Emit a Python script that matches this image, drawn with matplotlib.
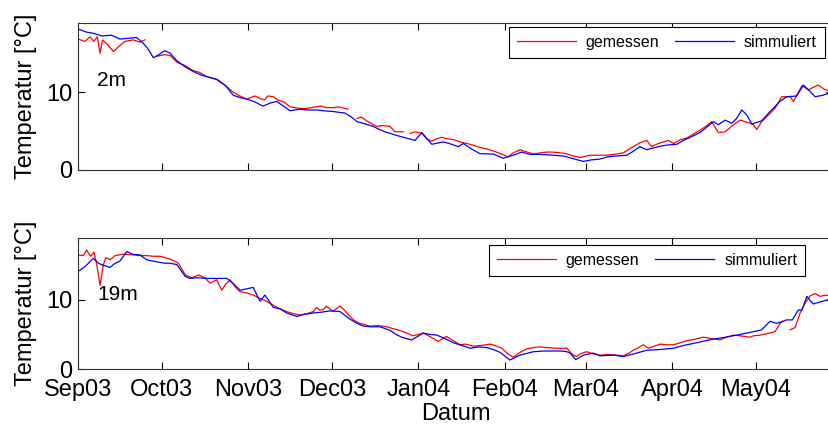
import numpy as np
import matplotlib
matplotlib.use("Agg")
import matplotlib.pyplot as plt
import matplotlib.dates as mdates

plt.rcParams['font.family'] = ['Liberation Sans', 'DejaVu Sans']

start = np.datetime64('2003-09-01')
nan = np.nan

# days since 1 Sep 2003, temperature in deg C (nan = gap in the record)
days_2m_meas = [0, 2.5, 4.3, 5.7, 6.9, 7.9, 8.8, 10.3, 12.7, 15.1, 16.8, 19.8, 22.2, 24, 26,
                28.4, 31, 33, 35.5, 38.4, 41, 43.7, 46, 49.7, 52.5, 55.6, 58, 60.4, 62, 63.5, 65,
                66.8, 68, 70, 71.5, 74, 76, 79.6, 82, 85, 87.3, 89, 91.5, 93.5, 95.7, 96.8, 98.5,
                100, 101.5, 103.5, 105, 107, 109, 111.8, 113.6, 116.5, 118,
                119, 121, 123.2, 125, 126.8, 128.5, 130.3, 132.5, 134.5, 137, 140.5, 143, 145.3,
                147.5, 150, 152, 154.2, 156, 158.4, 161, 163.2, 165.6, 168, 170, 172.8, 175, 177.5,
                179.9, 183.5, 186, 189.5, 192, 195.4, 198, 201.4, 203.8, 205.6, 208, 211.6, 213.4,
                216, 218.2, 220.5, 222.9, 225, 227.1, 229.5, 231.9, 234.9, 237.3, 240.9, 242,
                243.3, 245, 247.4, 249.8, 252.2, 255.2, 256.4, 259.4, 261.8, 265.3, 267.7, 269.5]
temp_2m_meas = [16.8, 16.5, 17.1, 16.5, 17.1, 15.0, 16.7, 16.2, 15.2, 16.0, 16.5, 16.7, 16.4, 16.7, nan,
                14.6, 14.8, 14.7, 13.8, 13.4, 12.8, 12.5, 12.0, 11.6, 10.9, 10.0, 9.5, 9.1, 9.3, 9.5, 9.2,
                9.0, 9.5, 9.4, 9.0, 8.7, 8.1, 7.9, 7.9, 8.1, 8.2, 8.0, 8.0, 8.1, 7.9, 7.8, nan,
                6.6, 6.8, 6.3, 6.0, 5.6, 5.7, 5.6, 4.9, 4.9, nan,
                4.7, 4.9, 4.7, 4.0, 3.7, 4.0, 4.2, 4.0, 3.9, 3.6, 3.3, 3.0, 2.8,
                2.6, 2.3, 2.0, 1.7, 2.2, 2.6, 2.3, 2.05, 2.2, 2.3, 2.3, 2.2, 2.1, 1.8,
                1.6, 1.9, 1.9, 1.9, 2.0, 2.2, 2.8, 3.5, 3.8, 3.0, 3.4, 3.8, 3.4,
                3.9, 4.1, 4.6, 5.1, 5.6, 6.2, 4.8, 4.9, 5.8, 6.4, 6.0, 5.8,
                5.2, 6.2, 7.05, 7.9, 9.4, 9.4, 8.8, 10.8, 10.3, 10.9, 10.3, 10.2]

days_2m_sim = [0, 3, 6, 8.5, 12, 15, 18, 21, 23, 25, 27, 29, 31, 33, 35.5, 38.5, 41, 44, 46, 50, 53,
               55.6, 58, 60.4, 63, 66.3, 69, 71.2, 74, 76, 79.6, 82, 85.5, 88, 91.5, 95.7, 98, 100,
               103, 105.8, 108, 110, 113.6, 116.6, 120.8, 123.2, 126.8, 130.9, 133, 136.3, 138.1,
               141, 144.1, 148.9, 152.4, 156, 159, 162, 165.6, 170, 174, 177, 181.1, 184, 187.1,
               190, 193.1, 196.7, 199, 201.4, 203.8, 208, 211, 214.6, 217, 219.4, 222.9, 225,
               227.7, 229.5, 231.9, 234.3, 236, 237.9, 239.7, 241.5, 245, 248, 251.6, 254, 257.6,
               260, 262, 264.2, 267.1, 268.3, 269.5]
temp_2m_sim = [18.1, 17.7, 17.5, 17.2, 17.3, 16.8, 16.9, 17.0, 16.4, 15.6, 14.4, 14.8, 15.3, 15.0, 14.0,
               13.2, 12.7, 12.2, 12.0, 11.6, 10.8, 9.6, 9.3, 9.1, 8.8, 8.2, 8.6, 8.8, 8.1, 7.6, 7.8,
               7.7, 7.7, 7.6, 7.5, 7.3, 6.8, 6.2, 5.9, 5.6, 5.2, 4.9, 4.5, 4.2, 3.8, 4.8, 3.3, 3.6,
               3.4, 3.0, 3.4, 2.7, 2.1, 2.05, 1.5, 1.9, 2.3, 2.0, 2.0, 1.9, 1.8, 1.5, 1.1, 1.3, 1.4,
               1.7, 1.8, 1.9, 2.4, 3.0, 2.6, 3.0, 3.2, 3.3, 3.8, 4.2, 4.8, 5.4, 6.2, 5.8, 6.4, 6.0,
               6.6, 7.7, 7.05, 5.9, 6.3, 7.5, 8.8, 9.4, 9.5, 10.9, 10.2, 9.4, 9.6, 9.8, 9.6]

days_19m_meas = [0, 1.9, 3.1, 4.5, 5.7, 6.7, 7.9, 9.1, 10, 11.5, 13.3, 16.2, 19.8, 22, 24.6, 27,
                 29.4, 33, 36, 38.4, 40.8, 43.2, 45.5, 47.3, 49.7, 51.5, 53, 54.5, 56.5, 58.1,
                 60.5, 62.8, 65.2, 67.6, 70, 72.4, 74.8, 77.2, 79.6, 82, 84.3, 85.5, 86.7, 87.9,
                 89, 90.5, 91.5, 93.9, 95.5, 97.5, 99, 101, 104.7, 107.5, 110.6, 114.2, 117.2,
                 120.2, 123.8, 126.5, 129.1, 132.1, 134.5, 136.9, 139, 141.7, 144.5, 147.7, 150,
                 151.9, 154, 156, 158.4, 160.8, 163.2, 165.6, 168, 171.6, 175.2, 176.3, 177.5,
                 178.7, 180, 182.3, 184.5, 187.1, 190, 193.1, 195.4, 197.5, 199, 200.5, 202.6,
                 204.5, 206.5, 208.6, 211, 213.4, 216, 218.2, 221, 224.1, 227, 230.1, 232.5,
                 234.9, 237.3, 240.9, 242.1, 244.5, 246.8, 249.8, 251.6, 252.6, 254,
                 255.2, 257, 258.8, 260.6, 262.4, 264.2, 266, 268, 269.5]
temp_19m_meas = [16.5, 16.4, 17.2, 16.3, 16.9, 15.1, 12.1, 15.1, 16.1, 15.8, 16.4, 16.6, 16.5, 16.4, 16.4, 16.3,
                 16.3, 15.9, 15.3, 13.6, 13.2, 13.6, 13.2, 12.4, 12.9, 11.4, 12.3, 12.9, 11.8, 11.2,
                 11.0, 10.7, 10.2, 9.8, 9.2, 8.7, 8.3, 8.0, 7.8, 8.0, 8.3, 8.9, 8.5, 8.6,
                 9.1, 8.6, 8.4, 9.1, 8.5, 7.6, 7.0, 6.6, 6.2, 6.3, 6.1, 5.7, 5.3,
                 4.8, 5.2, 4.6, 4.0, 4.7, 4.1, 3.5, 3.6, 3.3, 3.4, 3.6, 3.3,
                 3.0, 2.2, 1.7, 2.4, 2.9, 3.1, 3.2, 3.1, 3.0, 3.0, 2.5, 2.0,
                 1.8, 2.2, 2.5, 2.2, 2.0, 2.1, 2.0, 1.9, 2.3, 2.7, 3.0, 3.5,
                 3.0, 3.3, 3.6, 3.5, 3.5, 3.8, 4.1, 4.3, 4.6, 4.4, 4.2, 4.6,
                 4.9, 4.8, 4.6, 4.8, 4.9, 5.1, 5.4, 6.6, 6.9, nan,
                 5.65, 6.0, 8.1, 9.5, 10.6, 10.9, 10.5, 10.7, 10.5]

days_19m_sim = [0, 2.5, 5.5, 7.3, 9, 11.5, 13, 15, 17.5, 19.5, 22.2, 24.6, 28.2, 31, 33, 35.4, 38.4,
                40.1, 43, 46.1, 50, 53.3, 55.5, 58.1, 60.5, 62.8, 65.2, 67, 70, 72.4, 74.8, 78.4,
                81, 84.3, 87, 90.3, 93.9, 97.5, 100, 102.3, 105, 108.2, 111.8, 114, 116, 119.6,
                123.8, 126, 128.6, 131.5, 134.5, 137.5, 140.5, 143.5, 146.5, 149, 151.3, 154.8,
                158.4, 163.2, 167, 170.3, 173, 175.2, 176.3, 178.4, 181.1, 184.7, 187.1, 191.9,
                195.4, 200.2, 203.8, 208, 213.4, 217, 221.7, 225, 228.9, 232, 236.1, 240.9, 245,
                248, 250.4, 254, 256, 258.2, 259.4, 261.2, 263.5, 266, 269.5]
temp_19m_sim = [14.1, 14.8, 16.0, 15.3, 15.0, 14.7, 15.2, 15.6, 17.0, 16.6, 16.5, 15.8, 15.5, 15.3, 15.3, 15.1, 13.4,
                13.1, 13.2, 13.1, 13.1, 13.1, 12.4, 11.4, 11.6, 11.8, 9.8, 10.7, 8.9, 8.7, 8.1, 7.6,
                7.9, 8.1, 8.2, 8.4, 8.3, 7.2, 6.6, 6.2, 6.1, 6.1, 5.6, 5.0, 4.6, 4.2,
                5.2, 5.0, 4.9, 4.4, 3.8, 3.4, 3.0, 3.2, 3.1, 2.8, 2.4, 1.3,
                2.0, 2.5, 2.6, 2.6, 2.6, 2.5, 2.3, 1.35, 2.0, 2.3, 1.9, 2.0,
                1.8, 2.3, 2.7, 2.8, 3.0, 3.4, 3.8, 4.1, 4.4, 4.6, 4.9, 5.3, 5.65,
                6.9, 6.6, 7.1, 7.1, 8.55, 8.5, 10.5, 9.4, 9.7, 10.1]

month_ticks = ['2003-09-01', '2003-10-01', '2003-11-01', '2003-12-01', '2004-01-01',
               '2004-02-01', '2004-03-01', '2004-04-01', '2004-05-01']


def to_dates(days):
    hours = np.round(np.array(days) * 24).astype(np.int64)
    return start + hours.astype('timedelta64[h]')


fig = plt.figure(figsize=(8.29, 4.28), dpi=100)
x0, w = 78 / 829, 755 / 829
ax1 = fig.add_axes([x0, 1 - 170 / 428, w, 147.3 / 428])
ax2 = fig.add_axes([x0, 1 - 369 / 428, w, 130.7 / 428])

panels = [
    (ax1, days_2m_meas, temp_2m_meas, days_2m_sim, temp_2m_sim, '2m', 6.8, 10.8, (0.989, 0.973)),
    (ax2, days_19m_meas, temp_19m_meas, days_19m_sim, temp_19m_sim, '19m', 7.1, 10.0, (0.963, 0.949)),
]

for ax, dm, tm, ds, ts, depth, tx, ty, leg_pos in panels:
    ax.plot(to_dates(dm), tm, color='#ff0000', linewidth=0.9, label='gemessen')
    ax.plot(to_dates(ds), ts, color='#0000ff', linewidth=0.9, label='simmuliert')
    ax.set_xlim(start, start + np.timedelta64(int(270.6 * 24), 'h'))
    ax.set_ylim(0, 18.9)
    ax.set_yticks([0, 10])
    ax.set_xticks(np.array(month_ticks, dtype='datetime64[D]'))
    ax.xaxis.set_major_formatter(mdates.DateFormatter('%b%y'))
    ax.tick_params(direction='in', length=5, width=0.8, top=True, right=True,
                   labelsize=17, colors='black')
    ax.tick_params(axis='y', pad=4)
    ax.tick_params(axis='x', pad=7)
    for sp in ax.spines.values():
        sp.set_linewidth(0.8)
        sp.set_color('#333333')
    ax.set_ylabel('Temperatur [°C]', fontsize=17)
    ax.yaxis.set_label_coords(-0.054, 0.5)
    ax.text(mdates.date2num(to_dates([tx])[0]), ty, depth, fontsize=15, ha='left', va='baseline')
    leg = ax.legend(loc='upper right', bbox_to_anchor=leg_pos, ncol=2, fontsize=11.5,
                    handlelength=3.7, handletextpad=0.6, columnspacing=1.0,
                    borderpad=0.5, borderaxespad=0, fancybox=False, framealpha=1)
    leg.get_frame().set_edgecolor('black')
    leg.get_frame().set_linewidth(0.8)

ax1.tick_params(labelbottom=False)
ax2.set_xlabel('Datum', fontsize=17, labelpad=2)

fig.savefig('out.png', dpi=100)
